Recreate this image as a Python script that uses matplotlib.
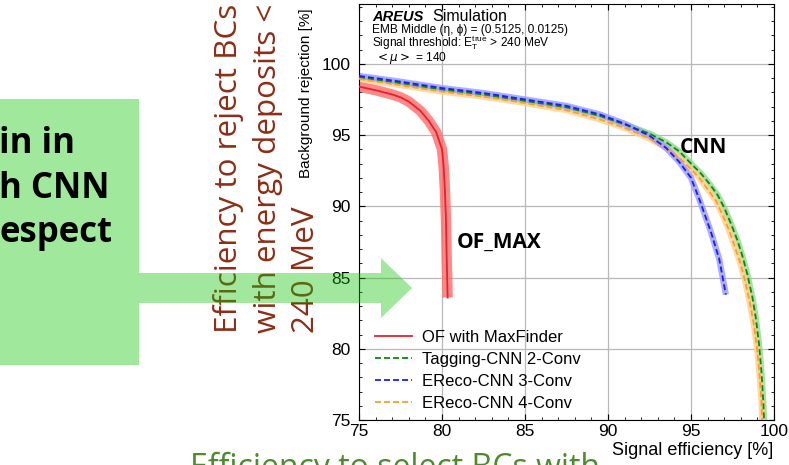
import matplotlib
matplotlib.use("Agg")
import matplotlib.pyplot as plt
from matplotlib.patches import Rectangle, FancyArrow
from matplotlib.ticker import MultipleLocator

# ---- data (signal efficiency [%], background rejection [%])
of_x = [75.0, 76.0, 77.0, 77.5, 78.0, 78.7, 79.2, 79.65, 80.0, 80.1, 80.18, 80.24, 80.28, 80.34]
of_y = [98.4, 98.15, 97.85, 97.65, 97.35, 96.7, 96.0, 95.2, 94.0, 92.8, 91.0, 89.0, 86.5, 83.6]

tag2_x = [75.0, 77.5, 80.0, 82.5, 85.0, 87.5, 89.5, 91.0, 92.5, 93.5, 94.3, 95.0, 95.6, 96.1,
          96.6, 97.0, 97.4, 97.8, 98.1, 98.4, 98.7, 98.9, 99.1, 99.25, 99.35, 99.42]
tag2_y = [99.05, 98.65, 98.2, 97.85, 97.4, 96.95, 96.35, 95.75, 95.1, 94.5, 93.85, 93.0, 92.3, 91.6,
          90.8, 89.9, 88.8, 87.6, 86.5, 85.2, 83.6, 82.2, 80.3, 78.3, 76.4, 74.5]

ereco3_x = [75.0, 77.5, 80.0, 82.5, 85.0, 87.5, 89.5, 91.0, 92.5, 93.5, 94.3, 95.0, 95.5,
            96.2, 96.7, 97.1]
ereco3_y = [99.15, 98.75, 98.3, 97.95, 97.5, 97.05, 96.45, 95.8, 94.95, 94.1, 93.1, 92.0, 90.5,
            88.2, 86.3, 83.8]

ereco4_x = [75.0, 77.5, 80.0, 82.5, 85.0, 87.5, 89.5, 91.0, 92.5, 93.5, 94.3, 95.0, 95.5, 96.0,
            96.5, 96.9, 97.3, 97.6, 97.95, 98.25, 98.55, 98.8, 99.0, 99.15, 99.25, 99.3]
ereco4_y = [98.95, 98.5, 98.05, 97.7, 97.25, 96.75, 96.1, 95.5, 94.75, 94.1, 93.4, 92.6, 92.0, 91.2,
            90.4, 89.4, 88.3, 87.3, 86.1, 84.8, 83.2, 81.6, 79.8, 77.9, 76.2, 74.5]

labels = ["OF with MaxFinder", "Tagging-CNN 2-Conv", "EReco-CNN 3-Conv", "EReco-CNN 4-Conv"]
x_ticks = [75, 80, 85, 90, 95, 100]
y_ticks = [75, 80, 85, 90, 95, 100]

W, H = 789, 465
plt.rcParams["font.family"] = ["Liberation Sans", "DejaVu Sans"]


def fx(px):
    return px / W


def fy(py):
    return 1 - py / H


fig = plt.figure(figsize=(W / 100, H / 100), dpi=100)
ax = fig.add_axes([fx(359), fy(420), (774 - 359) / W, (420 - 4) / H])

# uncertainty bands (drawn as wide translucent strokes)
ax.plot(of_x, of_y, color="#ff6a6a", lw=7.5, alpha=0.8, solid_capstyle="butt", zorder=2)
ax.plot(tag2_x, tag2_y, color="#8fd98f", lw=4.5, alpha=0.8, solid_capstyle="butt", zorder=2)
ax.plot(ereco4_x, ereco4_y, color="#ffd08a", lw=4.5, alpha=0.8, solid_capstyle="butt", zorder=2)
ax.plot(ereco3_x, ereco3_y, color="#9a9aff", lw=4.5, alpha=0.8, solid_capstyle="butt", zorder=2)

# central curves
ax.plot(of_x, of_y, color="#e8202a", lw=1.3, label=labels[0], zorder=4)
ax.plot(tag2_x, tag2_y, color="#0a8a0a", lw=1.3, dashes=(3.3, 1.7), label=labels[1], zorder=4)
ax.plot(ereco3_x, ereco3_y, color="#1a1aff", lw=1.3, dashes=(3.3, 1.7), label=labels[2], zorder=5)
ax.plot(ereco4_x, ereco4_y, color="#f5a030", lw=1.3, dashes=(3.3, 1.7), label=labels[3], zorder=4)

ax.set_xlim(75, 100)
ax.set_ylim(75, 104.2)
ax.set_xticks(x_ticks)
ax.set_yticks(y_ticks)
ax.xaxis.set_minor_locator(MultipleLocator(1))
ax.yaxis.set_minor_locator(MultipleLocator(1))
ax.tick_params(which="both", direction="in", top=True, right=True, labelsize=12.5)
ax.tick_params(which="major", length=4)
ax.tick_params(which="minor", length=2)
ax.tick_params(axis="y", pad=6)
ax.tick_params(axis="x", pad=3)
ax.grid(True, which="major", color="#b8b8b8", lw=0.9)
ax.set_axisbelow(True)

ax.legend(loc="upper left", bbox_to_anchor=(0.0386, 0.216), frameon=False, fontsize=12,
          handlelength=2.2, handletextpad=0.6, labelspacing=0.42, borderaxespad=0, borderpad=0)

# axis titles, ATLAS-style at the ends
fig.text(fx(310), fy(8), "Background rejection [%]", rotation=90, rotation_mode="anchor",
         ha="right", va="baseline", fontsize=11)
fig.text(fx(773), fy(455), "Signal efficiency [%]", ha="right", va="baseline", fontsize=13)

# simulation info
fig.text(fx(372), fy(21), "AREUS", fontsize=10.5, fontweight="bold", fontstyle="italic", zorder=6)
fig.text(fx(432), fy(21), "Simulation", fontsize=11.5, zorder=6)
info = "\n".join(["EMB Middle (η, ϕ) = (0.5125, 0.0125)",
                  r"Signal threshold: $\mathregular{E_T^{true}}$ > 240 MeV",
                  r" $<\mu>$ = 140"])
fig.text(fx(372), fy(61), info, fontsize=8.6, linespacing=0.8, va="baseline", zorder=6)

# slide annotations
fig.text(fx(457), fy(248), "OF_MAX", family="Open Sans", fontweight="bold", fontsize=15, zorder=6)
fig.text(fx(680), fy(153), "CNN", family="Open Sans", fontweight="bold", fontsize=15, zorder=6)

fig.add_artist(Rectangle((0, fy(365)), fx(139), (365 - 99) / H, transform=fig.transFigure,
                         facecolor="#a0e89b", edgecolor="none", zorder=1))
for txt, base in [("in in", 153), ("h CNN", 198), ("espect", 242)]:
    fig.text(fx(-1), fy(base), txt, family="Open Sans", fontweight="bold", fontsize=25,
             va="baseline", color="black", zorder=2)

brown = "#8b2e16"
for txt, base in [("Efficiency to reject BCs", 237), ("with energy deposits <", 276), ("240 MeV", 314)]:
    fig.text(fx(base), fy(333), txt, family="Open Sans", fontsize=22.6, color=brown, rotation=90,
             rotation_mode="anchor", ha="left", va="baseline", zorder=2)

fig.text(fx(190), fy(477), "Efficiency to select BCs with", family="Open Sans", fontsize=23,
         color="#4e8a2e", va="baseline", zorder=2)

fig.add_artist(FancyArrow(fx(139), fy(288), fx(412) - fx(139), 0, width=30 / H, head_width=60 / H,
                          head_length=31 / W, length_includes_head=True, transform=fig.transFigure,
                          facecolor="#14c30a", edgecolor="none", alpha=0.4, zorder=7))

fig.savefig("out.png", dpi=100)
